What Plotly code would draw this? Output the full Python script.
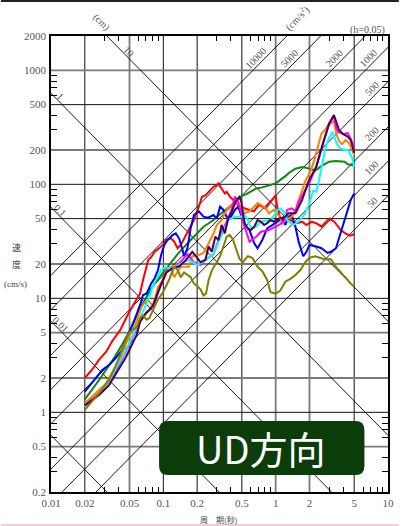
import numpy as np
import plotly.graph_objects as go

# ---- response spectra (period in s, pseudo velocity in cm/s) ----
red_T = [0.02, 0.0235, 0.0268, 0.031, 0.035, 0.041, 0.049, 0.055, 0.058, 0.062, 0.066, 0.0708, 0.0733, 0.078,
         0.0835, 0.0896, 0.099, 0.106, 0.117, 0.125, 0.134, 0.143, 0.158, 0.169, 0.187, 0.207, 0.221, 0.237,
         0.262, 0.28, 0.299, 0.31, 0.32, 0.353, 0.366, 0.391, 0.418, 0.46, 0.495, 0.54, 0.584, 0.64, 0.71,
         0.81, 0.9, 0.96, 1.0, 1.03, 1.1, 1.18, 1.3, 1.42, 1.55, 1.72, 1.88, 2.1, 2.35, 2.56, 2.9, 3.0,
         3.33, 3.8, 4.2, 4.6, 5.0]
red_V = [2.0, 2.4, 2.9, 3.4, 4.2, 5.2, 7.4, 9.0, 10.0, 11.0, 14.5, 19.0, 21.7, 23.0,
         25.6, 27.0, 29.4, 32.5, 33.6, 31.4, 27.5, 29.4, 35.9, 39.7, 48.6, 63.7, 77.8, 80.0,
         89.0, 95.0, 99.0, 102.0, 96.0, 83.0, 86.0, 78.0, 73.0, 66.0, 64.0, 61.0, 59.6, 58.0, 66.0,
         61.5, 70.0, 76.0, 80.0, 64.0, 50.0, 48.5, 50.0, 47.0, 45.5, 47.0, 44.0, 47.0, 45.0, 42.5, 48.5, 50.0,
         47.0, 39.7, 37.0, 35.5, 36.5]

blue_T = [0.02, 0.0242, 0.0286, 0.0328, 0.0375, 0.0428, 0.049, 0.056, 0.062, 0.066, 0.071, 0.078, 0.0836,
          0.0896, 0.0955, 0.102, 0.109, 0.121, 0.129, 0.138, 0.148, 0.153, 0.164, 0.175, 0.187, 0.207, 0.228,
          0.25, 0.28, 0.299, 0.32, 0.343, 0.366, 0.391, 0.433, 0.464, 0.51, 0.549, 0.584, 0.645, 0.69, 0.76,
          0.84, 0.93, 1.03, 1.14, 1.22, 1.3, 1.39, 1.5, 1.6, 1.76, 1.88, 2.0, 2.3, 2.56, 2.9, 3.1, 3.44, 3.8,
          4.2, 4.66, 5.0]
blue_V = [1.52, 1.92, 2.35, 2.6, 2.98, 3.52, 4.77, 6.68, 8.7, 10.7, 11.0, 13.5, 15.0,
          17.7, 24.0, 29.4, 32.5, 35.9, 37.2, 33.6, 26.7, 23.4, 27.5, 41.0, 53.8, 58.0, 52.0,
          51.0, 53.8, 50.0, 63.7, 59.6, 52.0, 50.0, 59.6, 63.7, 48.6, 42.5, 39.7, 30.4, 27.5, 32.5,
          41.0, 44.0, 47.0, 50.0, 44.0, 52.0, 53.8, 42.5, 31.4, 23.4, 25.6, 29.4, 28.5, 27.5, 25.0, 25.6, 27.5, 38.4,
          52.0, 73.0, 83.0]

green_T = [0.02, 0.0268, 0.035, 0.0428, 0.0524, 0.064, 0.0836, 0.109, 0.134, 0.175, 0.2, 0.228, 0.28, 0.3,
           0.39, 0.51, 0.549, 0.67, 0.76, 0.82, 1.0, 1.22, 1.3, 1.5, 1.72, 1.96, 2.25, 2.56, 3.0, 3.44, 4.1,
           4.4, 5.0]
green_V = [1.3, 1.92, 2.82, 3.9, 5.64, 8.7, 13.5, 18.9, 24.4, 32.5, 37.2, 42.5, 48.6, 52.0,
           64.0, 80.0, 82.0, 92.0, 94.0, 96.0, 102.0, 118.0, 125.0, 137.0, 142.0, 138.0, 132.0, 145.0, 158.0,
           160.0, 158.0, 150.0, 146.0]

orange_T = [0.02, 0.025, 0.0306, 0.036, 0.0414, 0.046, 0.0505, 0.056, 0.06, 0.064, 0.0686, 0.073, 0.0755,
            0.081, 0.0896, 0.099, 0.106, 0.117, 0.125, 0.143, 0.169, 0.181, 0.207, 0.228, 0.253, 0.28, 0.299,
            0.33, 0.366, 0.405, 0.447, 0.495, 0.53, 0.584, 0.645, 0.69, 0.74, 0.82, 0.87, 0.96, 1.07, 1.14,
            1.22, 1.39, 1.5, 1.6, 1.72, 1.83, 1.96, 2.1, 2.25, 2.4, 2.56, 2.75, 2.93, 3.1, 3.3, 3.44, 3.66,
            3.9, 4.2, 4.5, 4.8, 5.0]
orange_V = [1.2, 1.47, 1.77, 2.35, 3.0, 3.9, 4.8, 5.8, 7.1, 8.4, 9.3, 9.6, 9.3,
            8.6, 12.5, 14.5, 17.7, 18.9, 15.3, 18.9, 18.9, 23.4, 24.0, 25.0, 30.4, 37.2, 44.0,
            48.6, 59.6, 65.9, 68.5, 63.7, 55.7, 58.0, 63.7, 68.5, 65.9, 61.5, 55.7, 59.6, 53.0, 45.0,
            48.6, 52.0, 58.0, 73.0, 88.0, 106.0, 120.0, 140.0, 175.0, 228.0, 280.0, 300.0, 331.0, 343.0, 360.0,
            285.0, 240.0, 225.0, 245.0, 230.0, 200.0, 180.0]

cyan_T = [0.02, 0.025, 0.031, 0.036, 0.042, 0.047, 0.052, 0.058, 0.064, 0.07, 0.075, 0.081, 0.0955, 0.106,
          0.117, 0.143, 0.169, 0.2, 0.228, 0.28, 0.31, 0.353, 0.378, 0.433, 0.495, 0.53, 0.565, 0.584, 0.62,
          0.67, 0.74, 0.9, 1.0, 1.03, 1.1, 1.18, 1.26, 1.44, 1.66, 1.83, 2.0, 2.16, 2.3, 2.4, 2.56, 2.75,
          2.93, 3.2, 3.5, 3.8, 4.2, 4.4, 4.8, 5.0]
cyan_V = [1.12, 1.35, 1.7, 2.2, 2.9, 3.6, 4.4, 5.6, 7.2, 8.8, 10.2, 13.0, 17.7, 18.9,
          17.7, 20.2, 21.8, 19.6, 21.0, 24.4, 31.4, 41.0, 48.6, 52.0, 52.0, 53.8, 48.6, 44.0, 41.0,
          42.5, 47.0, 48.6, 55.7, 59.6, 61.5, 58.0, 48.6, 44.0, 48.6, 55.7, 68.5, 88.0, 86.0, 102.0, 143.0, 200.0,
          245.0, 290.0, 228.0, 205.0, 200.0, 200.0, 171.0, 143.0]

magenta_T = [0.02, 0.025, 0.031, 0.036, 0.042, 0.047, 0.052, 0.058, 0.064, 0.0708, 0.075, 0.081, 0.092,
             0.109, 0.125, 0.143, 0.164, 0.187, 0.214, 0.237, 0.28, 0.299, 0.33, 0.366, 0.405, 0.433, 0.46,
             0.495, 0.53, 0.565, 0.584, 0.67, 0.74, 0.87, 1.07, 1.22, 1.26, 1.39, 1.5, 1.6, 1.76, 2.0, 2.3,
             2.63, 3.0, 3.3, 3.5, 3.7, 4.0, 4.37, 4.66, 5.0]
magenta_V = [1.15, 1.38, 1.7, 2.1, 2.8, 3.5, 4.3, 5.3, 6.6, 7.6, 7.9, 8.5, 12.0,
             17.7, 18.5, 21.0, 24.4, 20.7, 19.6, 21.8, 24.4, 29.4, 38.0, 47.0, 60.0, 78.0, 72.0,
             55.0, 42.0, 35.0, 31.4, 34.7, 38.4, 39.7, 44.0, 48.6, 59.6, 61.5, 58.0, 70.0, 82.0, 104.0, 143.0,
             228.0, 343.0, 395.0, 300.0, 285.0, 275.0, 282.0, 250.0, 210.0]

purple_T = [0.02, 0.0268, 0.0328, 0.04, 0.046, 0.0524, 0.058, 0.062, 0.0686, 0.075, 0.081, 0.092, 0.106,
            0.121, 0.138, 0.158, 0.181, 0.2, 0.214, 0.237, 0.253, 0.27, 0.29, 0.31, 0.33, 0.353, 0.378, 0.405,
            0.447, 0.477, 0.495, 0.51, 0.53, 0.565, 0.6, 0.645, 0.69, 0.74, 0.79, 0.84, 0.9, 0.96, 1.07,
            1.22, 1.3, 1.5, 1.72, 1.96, 2.3, 2.63, 3.0, 3.3, 3.66, 4.0, 4.37, 4.66, 5.0]
purple_V = [1.15, 1.42, 1.72, 2.35, 3.0, 3.9, 4.8, 6.2, 7.2, 7.9, 8.7, 12.1, 16.9,
            18.3, 19.0, 21.5, 25.6, 22.7, 20.7, 21.8, 28.5, 25.6, 34.7, 32.5, 44.0, 37.2, 50.0, 57.0,
            73.0, 77.8, 70.0, 55.7, 45.5, 41.0, 39.7, 42.5, 48.6, 47.0, 44.0, 45.5, 48.6, 47.0, 50.0,
            52.0, 55.7, 55.7, 73.0, 106.0, 143.0, 228.0, 343.0, 406.0, 300.0, 275.0, 262.0, 245.0, 189.0]

olive_T = [0.02, 0.0268, 0.0328, 0.0375, 0.0428, 0.047, 0.0505, 0.058, 0.062, 0.066, 0.071, 0.075, 0.081,
           0.089, 0.099, 0.113, 0.125, 0.134, 0.143, 0.153, 0.175, 0.187, 0.2, 0.214, 0.228, 0.24, 0.253,
           0.27, 0.32, 0.343, 0.366, 0.391, 0.418, 0.447, 0.477, 0.51, 0.565, 0.62, 0.69, 0.76, 0.84, 0.9,
           1.0, 1.1, 1.22, 1.35, 1.5, 1.66, 1.83, 2.0, 2.25, 2.47, 2.7, 3.1, 3.44, 3.8, 4.2, 4.66, 5.0]
olive_V = [1.05, 1.47, 1.92, 2.52, 3.52, 4.5, 5.1, 5.6, 6.7, 7.1, 6.5, 6.7, 7.9,
           9.7, 11.2, 14.7, 18.9, 17.7, 15.3, 16.9, 15.3, 13.5, 12.8, 12.0, 10.6, 11.0, 14.5,
           17.5, 23.4, 28.5, 34.7, 35.9, 32.5, 26.7, 22.1, 20.7, 23.4, 22.7, 18.9, 17.3, 14.5, 11.3,
           11.0, 11.7, 14.0, 14.8, 16.0, 17.7, 20.7, 22.7, 23.4, 22.7, 22.0, 22.0, 18.9, 16.9, 15.0, 13.5, 12.6]

# ---- axis ticks / tripartite grid levels ----
x_ticks = [0.01, 0.02, 0.05, 0.1, 0.2, 0.5, 1, 2, 5, 10]
x_tick_text = ["0.01", "0.02", "0.05", "0.1", "0.2", "0.5", "1", "2", "5", "10"]
y_ticks = [0.2, 0.5, 1, 2, 5, 10, 20, 50, 100, 200, 500, 1000, 2000]
y_tick_text = ["0.2", "0.5", "1", "2", "5", "10", "20", "50", "100", "200", "500", "1000", "2000"]
disp_levels = [0.001, 0.01, 0.1, 1, 10]          # cm
disp_labels = {0.01: "0.01", 0.1: "0.1", 1: "1", 10: "10"}
acc_levels = [50, 100, 200, 500, 1000, 2000, 5000, 10000]   # cm/s^2
grid_x_dark = [0.02, 0.1, 0.2, 0.5, 5]
grid_x_grey = [0.05, 1, 2]
grid_y_dark = [500, 100, 50, 10, 1]
grid_y_grey = [1000, 200, 20, 5, 2, 0.5]

T_MIN, T_MAX = 0.01, 10.0
V_MIN, V_MAX = 0.2, 2000.0
TWO_PI = 2 * np.pi


def minor_vals(lo_exp, hi_exp):
    vals = []
    for e in range(lo_exp, hi_exp + 1):
        for m in (3, 4, 6, 7, 8, 9):
            vals.append(m * 10.0 ** e)
    return vals


fig = go.Figure()

# rectangular grid
for xv in grid_x_dark + grid_x_grey:
    dark = xv in grid_x_dark
    fig.add_trace(go.Scatter(x=[xv, xv], y=[V_MIN, V_MAX], mode="lines",
                             line=dict(color="#111111" if dark else "#7a7a7a", width=1 if dark else 1.8),
                             hoverinfo="skip", showlegend=False))
for yv in grid_y_dark + grid_y_grey:
    dark = yv in grid_y_dark
    fig.add_trace(go.Scatter(x=[T_MIN, T_MAX], y=[yv, yv], mode="lines",
                             line=dict(color="#111111" if dark else "#7a7a7a", width=1 if dark else 1.8),
                             hoverinfo="skip", showlegend=False))

# constant-displacement and constant-acceleration lines
t_span = np.array([1e-4, 1e3])
for d in disp_levels:
    fig.add_trace(go.Scatter(x=t_span, y=TWO_PI * d / t_span, mode="lines",
                             line=dict(color="black", width=0.9), hoverinfo="skip", showlegend=False))
for a in acc_levels:
    fig.add_trace(go.Scatter(x=t_span, y=a * t_span / TWO_PI, mode="lines",
                             line=dict(color="black", width=0.9), hoverinfo="skip", showlegend=False))

# spectra
series = [
    (red_T, red_V, "#ff0000"),
    (green_T, green_V, "#0a8a0a"),
    (blue_T, blue_V, "#0000ff"),
    (orange_T, orange_V, "#ff8000"),
    (magenta_T, magenta_V, "#ff00ff"),
    (cyan_T, cyan_V, "#00ffff"),
    (purple_T, purple_V, "#4a0050"),
    (olive_T, olive_V, "#808000"),
]
for t, v, c in series:
    fig.add_trace(go.Scatter(x=t, y=v, mode="lines", line=dict(color=c, width=2),
                             hoverinfo="skip", showlegend=False))

serif = "Liberation Serif"
label_font = dict(family=serif, size=10, color="#555555")
annotations = []

# labels of the diagonal lines
V_LABEL_TOP = 1048.0
T_LABEL_RIGHT = 7.18
for a in acc_levels:
    t_lab = min(TWO_PI * V_LABEL_TOP / a, T_LABEL_RIGHT)
    v_lab = a * t_lab / TWO_PI
    annotations.append(dict(x=np.log10(t_lab), y=np.log10(v_lab), xref="x", yref="y", text=str(a),
                            showarrow=False, textangle=-45, yshift=10, font=label_font,
                            xanchor="center", yanchor="middle"))
V_DLABEL_TOP = 1278.0
T_DLABEL_LEFT = 0.0122
for d, txt in disp_labels.items():
    t_lab = max(TWO_PI * d / V_DLABEL_TOP, T_DLABEL_LEFT)
    v_lab = TWO_PI * d / t_lab
    annotations.append(dict(x=np.log10(t_lab), y=np.log10(v_lab), xref="x", yref="y", text=txt,
                            showarrow=False, textangle=45, yshift=7, font=label_font,
                            xanchor="center", yanchor="middle"))


def note(x, y, text, font, angle=0, xanchor="center"):
    return dict(x=x, y=y, xref="paper", yref="paper", text=text, showarrow=False,
                textangle=angle, font=font, xanchor=xanchor, yanchor="middle")


cjk_small = dict(family="Noto Sans CJK JP", size=9, color="#444444")
annotations += [
    note(0.1487, 1.031, "(cm)", label_font, 45),
    note(0.730, 1.038, "(cm/s<sup>2</sup>)", label_font, -45),
    note(0.998, 1.014, "(h=0.05)", label_font, 0, "right"),
    note(-0.102, 0.537, "速", cjk_small),
    note(-0.102, 0.498, "度", cjk_small),
    note(-0.105, 0.456, "(cm/s)", dict(family=serif, size=9, color="#444444")),
    note(0.4985, -0.061, "周　期(秒)", dict(family="Noto Sans CJK JP", size=8, color="#444444")),
    note(0.624, 0.0965, "UD方向", dict(family="Noto Sans CJK JP", size=38, color="white")),
]

# plot area in pixels
L, R, T, B = 51, 394, 36, 492
W, H = R - L, B - T


def px(xp):
    return (xp - L) / W


def py(yp):
    return (B - yp) / H


bx0, bx1, by0, by1, rad = 161, 370, 421, 475, 9
box_path = (f"M {px(bx0 + rad)},{py(by0)} L {px(bx1 - rad)},{py(by0)} "
            f"Q {px(bx1)},{py(by0)} {px(bx1)},{py(by0 + rad)} L {px(bx1)},{py(by1 - rad)} "
            f"Q {px(bx1)},{py(by1)} {px(bx1 - rad)},{py(by1)} L {px(bx0 + rad)},{py(by1)} "
            f"Q {px(bx0)},{py(by1)} {px(bx0)},{py(by1 - rad)} L {px(bx0)},{py(by0 + rad)} "
            f"Q {px(bx0)},{py(by0)} {px(bx0 + rad)},{py(by0)} Z")

shapes = [
    dict(type="path", path=box_path, xref="paper", yref="paper",
         fillcolor="#0b3d0b", line=dict(width=0), layer="above"),
    dict(type="line", xref="paper", yref="paper", x0=px(0), x1=px(405), y0=py(1), y1=py(1),
         line=dict(color="#222222", width=2)),
    dict(type="line", xref="paper", yref="paper", x0=px(0), x1=px(405), y0=py(525), y1=py(525),
         line=dict(color="#f4bcc4", width=1.5)),
]

axis_common = dict(type="log", showgrid=False, zeroline=False, showline=True, linecolor="black",
                   linewidth=1.5, mirror="allticks", ticks="",
                   tickfont=dict(family=serif, size=11, color="#555555"))

fig.update_layout(
    width=405, height=526,
    margin=dict(l=L, r=405 - R, t=T, b=526 - B, pad=0),
    paper_bgcolor="white", plot_bgcolor="white",
    showlegend=False,
    xaxis=dict(range=[np.log10(T_MIN), np.log10(T_MAX)], tickmode="array", tickvals=x_ticks,
               ticktext=x_tick_text, ticklabelstandoff=0,
               minor=dict(tickmode="array", tickvals=minor_vals(-2, 0), ticks="inside", ticklen=5,
                          tickcolor="black", tickwidth=1, showgrid=False),
               **axis_common),
    yaxis=dict(range=[np.log10(V_MIN), np.log10(V_MAX)], tickmode="array", tickvals=y_ticks,
               ticktext=y_tick_text, ticklabelstandoff=1,
               minor=dict(tickmode="array", tickvals=minor_vals(-1, 3), ticks="inside", ticklen=6,
                          tickcolor="black", tickwidth=1, showgrid=False),
               **axis_common),
    annotations=annotations,
    shapes=shapes,
)

fig.write_html("out.html")
